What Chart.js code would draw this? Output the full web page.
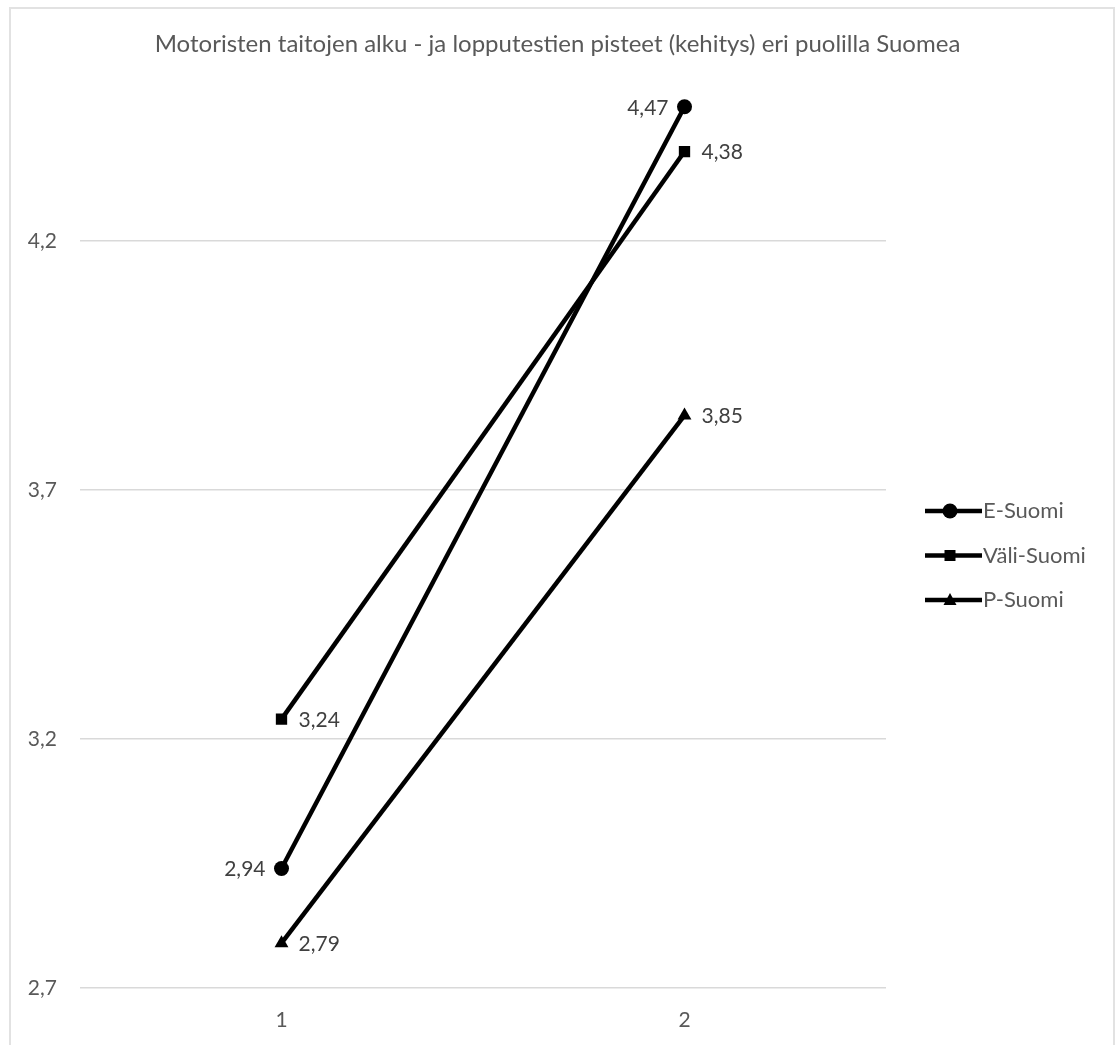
<!DOCTYPE html>
<html lang="fi">
<head>
  <meta charset="UTF-8" />
  <title>Motoristen taitojen kehitys</title>
  <style>
    * {
      margin: 0;
      padding: 0;
      box-sizing: border-box;
    }

    body {
      background: white;
      width: 1115px;
      height: 1045px;
      overflow: hidden;
      position: relative;
    }

    .kehys {
      position: absolute;
      left: 9px;
      top: 7px;
      width: 1106px;
      height: 1100px;
      border: 2px solid #e2e2e2;
    }

    .alue {
      position: absolute;
      left: 0;
      top: 0;
      width: 1115px;
      height: 1045px;
    }
  </style>
</head>
<body>
  <div class="kehys"></div>
  <div class="alue">
    <canvas id="kaavio"></canvas>
  </div>

  <script src="https://cdn.jsdelivr.net/npm/chart.js"></script>
  <script>
    // data
    const testit = ["1", "2"];
    const eSuomi = [2.94, 4.47];
    const valiSuomi = [3.24, 4.38];
    const pSuomi = [2.79, 3.85];
    const sarjat = ["E-Suomi", "Väli-Suomi", "P-Suomi"];
    const yTikit = [2.7, 3.2, 3.7, 4.2];

    const fontti = "Lato, 'Open Sans', sans-serif";
    const harmaa = "#595959";

    function pilkku(n, des) {
      return n.toFixed(des).replace(".", ",");
    }

    function piirraMerkki(ctx, tyyli, x, y) {
      ctx.fillStyle = "#000";
      ctx.beginPath();
      if (tyyli === "circle") {
        ctx.arc(x, y, 7.5, 0, Math.PI * 2);
      } else if (tyyli === "rect") {
        ctx.rect(x - 5.5, y - 5.5, 11, 11);
      } else {
        ctx.moveTo(x, y - 7);
        ctx.lineTo(x + 6.5, y + 5);
        ctx.lineTo(x - 6.5, y + 5);
        ctx.closePath();
      }
      ctx.fill();
    }

    // arvot pisteiden viereen
    const arvoTekstit = {
      id: "arvoTekstit",
      afterDatasetsDraw(chart) {
        const ctx = chart.ctx;
        ctx.save();
        ctx.font = "21px " + fontti;
        ctx.fillStyle = "#404040";
        ctx.textBaseline = "middle";
        chart.data.datasets.forEach((ds, i) => {
          const meta = chart.getDatasetMeta(i);
          meta.data.forEach((p, j) => {
            const teksti = pilkku(ds.data[j], 2);
            if (ds.arvoVasen) {
              ctx.textAlign = "right";
              ctx.fillText(teksti, p.x - 16, p.y + 1);
            } else {
              ctx.textAlign = "left";
              ctx.fillText(teksti, p.x + 17, p.y + 1);
            }
          });
        });
        ctx.restore();
      }
    };

    // selite oikealla
    const selite = {
      id: "selite",
      afterDraw(chart) {
        const ctx = chart.ctx;
        ctx.save();
        chart.data.datasets.forEach((ds, i) => {
          const y = 511 + i * 44.5;
          ctx.strokeStyle = "#000";
          ctx.lineWidth = 4.5;
          ctx.beginPath();
          ctx.moveTo(925, y);
          ctx.lineTo(982, y);
          ctx.stroke();
          piirraMerkki(ctx, ds.pointStyle, 950, y);
          ctx.font = "22px " + fontti;
          ctx.fillStyle = harmaa;
          ctx.textAlign = "left";
          ctx.textBaseline = "middle";
          ctx.fillText(ds.label, 983, y);
        });
        ctx.restore();
      }
    };

    function sarja(nimi, arvot, tyyli, koko, vasen) {
      return {
        label: nimi,
        data: arvot,
        borderColor: "#000",
        backgroundColor: "#000",
        borderWidth: 4.5,
        pointStyle: tyyli,
        pointRadius: koko,
        pointHoverRadius: koko,
        pointBorderWidth: 0,
        tension: 0,
        arvoVasen: vasen
      };
    }

    new Chart(document.getElementById("kaavio"), {
      type: "line",
      data: {
        labels: testit,
        datasets: [
          sarja(sarjat[0], eSuomi, "circle", 7.5, true),
          sarja(sarjat[1], valiSuomi, "rect", 8, false),
          sarja(sarjat[2], pSuomi, "triangle", 8, false)
        ]
      },
      options: {
        responsive: true,
        maintainAspectRatio: false,
        animation: false,
        layout: {
          padding: { top: 18, right: 0, bottom: 0, left: 0 }
        },
        plugins: {
          legend: { display: false },
          tooltip: { enabled: false },
          title: {
            display: true,
            text: "Motoristen taitojen alku - ja lopputestien pisteet (kehitys) eri puolilla Suomea",
            color: harmaa,
            font: { family: fontti, size: 24, weight: "normal" },
            padding: { top: 12, bottom: 33 }
          }
        },
        scales: {
          x: {
            offset: true,
            grid: { display: false },
            border: { display: false },
            ticks: {
              color: harmaa,
              font: { family: fontti, size: 21 },
              padding: 12
            },
            afterFit(scale) {
              scale.height = 57;
            }
          },
          y: {
            min: 2.7,
            max: 4.5,
            grid: { color: "#d9d9d9", lineWidth: 1.5, drawTicks: false },
            border: { display: false },
            ticks: {
              color: harmaa,
              font: { family: fontti, size: 21 },
              padding: 23,
              callback: (v) => pilkku(v, 1)
            },
            afterBuildTicks(scale) {
              scale.ticks = yTikit.map((v) => ({ value: v }));
            },
            afterFit(scale) {
              scale.width = 80;
            }
          },
          // tyhjä akseli oikealle selitteen tilaksi
          tila: {
            position: "right",
            display: true,
            grid: { display: false },
            border: { display: false },
            ticks: { display: false },
            afterFit(scale) {
              scale.width = 229;
            }
          }
        }
      },
      plugins: [arvoTekstit, selite]
    });
  </script>
</body>
</html>
